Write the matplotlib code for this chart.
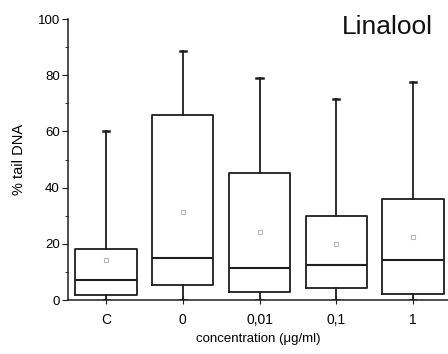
import matplotlib.pyplot as plt
from matplotlib.ticker import MultipleLocator

plt.rcParams['font.family'] = ['Liberation Sans', 'DejaVu Sans']

# box statistics (% tail DNA)
groups = ['C', '0', '0,01', '0,1', '1']
whisker_low = [0, 0, 0, 0, 0]
q1 = [1.8, 5.2, 2.8, 4.4, 2.3]
medians = [7.2, 14.8, 11.3, 12.4, 14.3]
q3 = [18.1, 66.0, 45.1, 30.0, 36.0]
whisker_high = [60.0, 88.7, 78.9, 71.6, 77.7]
means = [14.1, 31.2, 24.1, 20.1, 22.5]

stats = []
for i, name in enumerate(groups):
    stats.append({'label': name, 'whislo': whisker_low[i], 'q1': q1[i],
                  'med': medians[i], 'q3': q3[i], 'whishi': whisker_high[i],
                  'mean': means[i], 'fliers': []})

fig = plt.figure(figsize=(4.48, 3.54), dpi=100)
ax = fig.add_axes([0.152, 0.1525, 0.848, 0.7935])

line_col = '#1e1e1e'
ax.bxp(stats, positions=range(1, len(groups) + 1), widths=0.8,
       showmeans=True, showcaps=True,
       boxprops=dict(color=line_col, linewidth=1.3),
       medianprops=dict(color=line_col, linewidth=1.5),
       whiskerprops=dict(color=line_col, linewidth=1.3),
       capprops=dict(color=line_col, linewidth=1.8),
       capwidths=0.08,
       meanprops=dict(marker='s', markersize=3, markerfacecolor='white',
                      markeredgecolor='#b8b8b8', markeredgewidth=0.8))

ax.set_xlim(0.506, 5.455)
ax.set_ylim(0, 100)
ax.spines['top'].set_visible(False)
ax.spines['right'].set_visible(False)
for s in ['left', 'bottom']:
    ax.spines[s].set_color(line_col)
    ax.spines[s].set_linewidth(1.1)

ax.yaxis.set_major_locator(MultipleLocator(20))
ax.yaxis.set_minor_locator(MultipleLocator(10))
ax.tick_params(axis='y', which='major', direction='out', length=4,
               labelsize=9.5, color=line_col, pad=2)
ax.tick_params(axis='y', which='minor', direction='out', length=2.5,
               color=line_col)
ax.tick_params(axis='x', which='major', direction='inout', length=6,
               labelsize=10, color=line_col, pad=6)

ax.set_ylabel('% tail DNA', fontsize=10.5, labelpad=8)
ax.set_xlabel('concentration (\u03bcg/ml)', fontsize=9.5, labelpad=5)

ax.text(0.96, 0.9455, 'Linalool', transform=ax.transAxes, ha='right',
        va='baseline', fontsize=19, color='#111111')

plt.savefig('out.png', dpi=100)
